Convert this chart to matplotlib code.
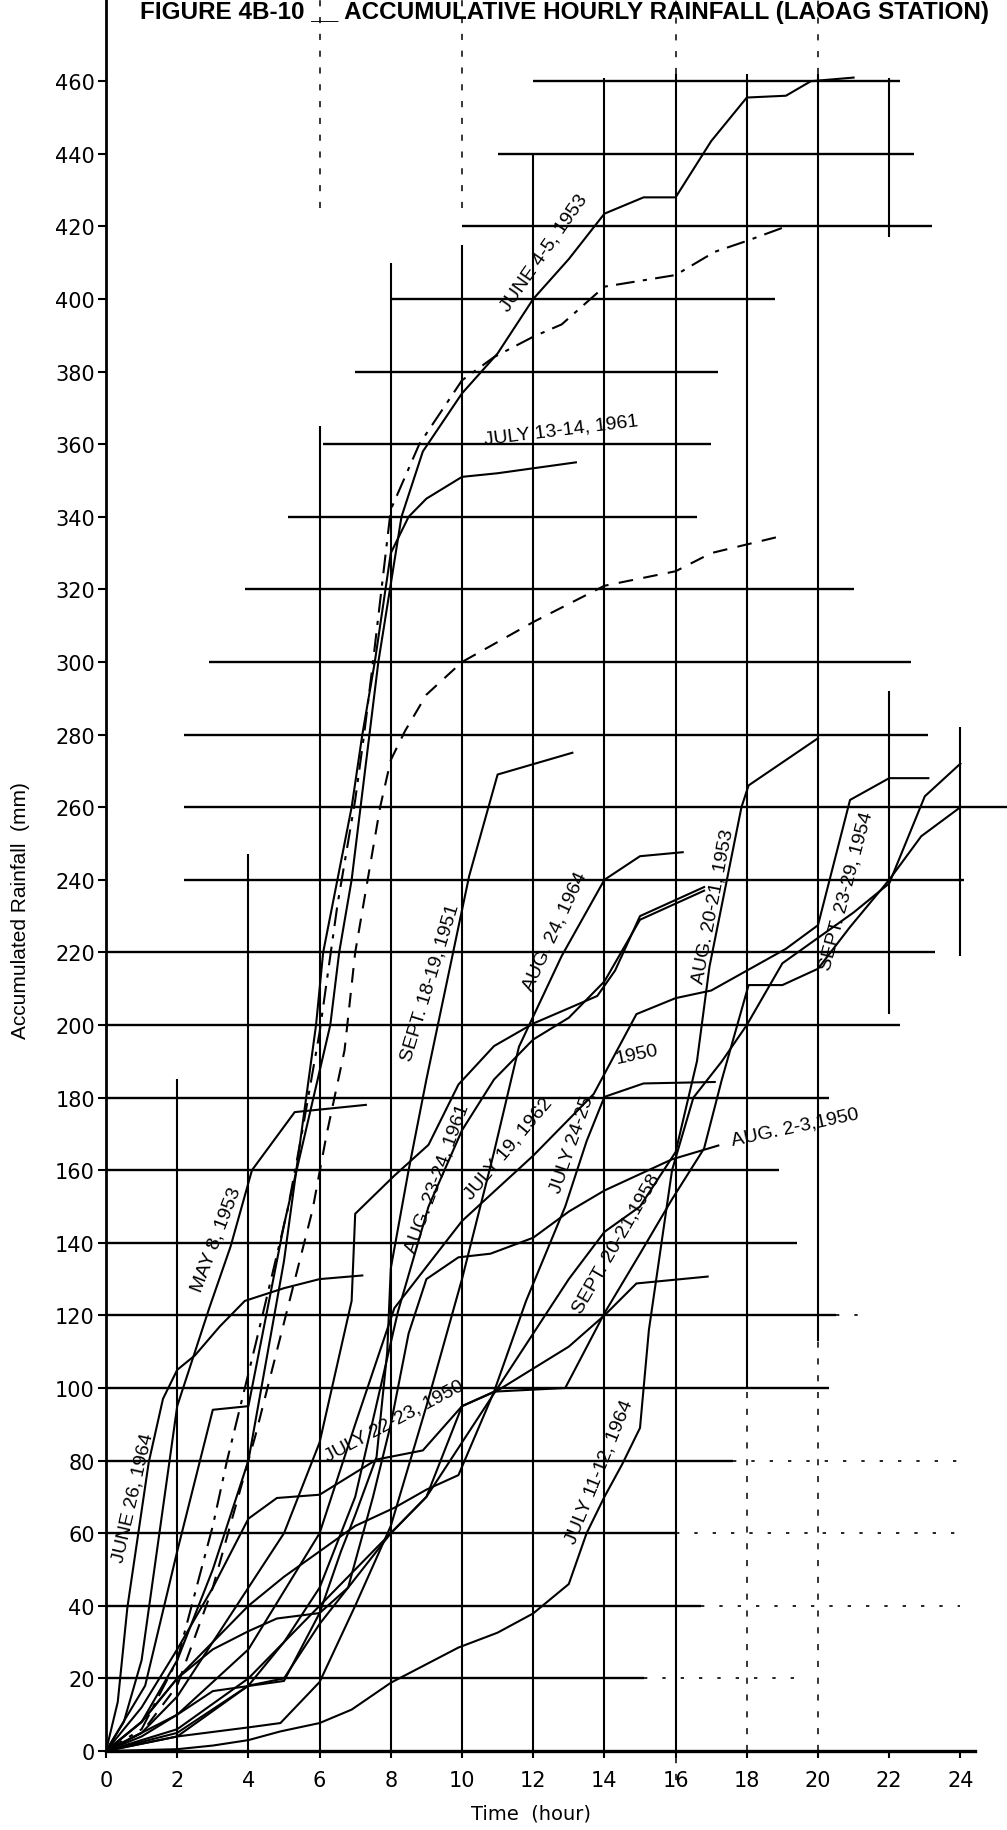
import matplotlib.pyplot as plt

plt.rcParams['font.family'] = ['Liberation Sans', 'DejaVu Sans']
TICKFONT = ['DejaVu Sans']

# storms: hours from start and accumulated rainfall (mm)
june26_1964_t = [0, 0.33, 0.6, 1.2, 1.6, 2, 2.5, 3.2, 3.9, 5, 6, 7.2]
june26_1964_mm = [0, 13.5, 39.5, 79.5, 97, 105, 109, 117, 124, 127.5, 130, 131]

may8_1953_t = [0, 0.5, 1, 1.5, 2, 2.9, 3.5, 4.1, 5.3, 7.3]
may8_1953_mm = [0, 8, 25, 60, 95, 122, 139, 160, 176, 178]

june4_5_1953_t = [0, 1.1, 2, 3, 4, 5, 6.3, 6.55, 6.9, 7.15, 7.4, 7.65, 8.3, 8.9, 10, 11,
                  12, 13, 14, 15.1, 16, 17, 18, 19.1, 19.8, 21]
june4_5_1953_mm = [0, 18, 55, 94, 95, 145, 200, 220, 240, 260, 280, 300, 340, 358, 374, 385,
                   400, 411, 423.5, 428, 428, 443.5, 455.5, 456, 460, 461]

upper_dashdot_t = [0, 1, 2, 3, 3.4, 4.2, 5.1, 5.5, 6, 6.5, 7, 7.25, 7.5, 8, 8.8, 10, 10.9,
                   12, 12.8, 14, 16, 17.1, 18, 19]
upper_dashdot_mm = [0, 6, 25, 62, 80, 112, 149, 170, 198, 233, 262, 280, 300, 342, 360, 377.6,
                    384, 389.6, 393, 403.4, 406.6, 413, 416, 419.6]

july13_14_1961_t = [0, 1, 2, 3, 4, 5, 5.9, 6.1, 6.5, 6.9, 7.2, 7.55, 8, 8.5, 9, 10, 11, 13.2]
july13_14_1961_mm = [0, 8, 25, 50, 80, 135, 200, 220, 240, 260, 280, 300, 330, 340, 345, 351,
                     352, 355]

lower_dashed_t = [0, 1, 2, 3, 4.2, 5, 5.8, 6.2, 6.7, 7, 7.35, 7.7, 8, 8.4, 9, 10, 12, 12.6,
                  14, 16, 17, 19.1]
lower_dashed_mm = [0, 5, 18, 45, 87, 118, 149, 170, 193, 220, 240, 260, 273, 281, 291, 300,
                   311, 314, 321, 325, 330, 335]

sept18_19_1951_t = [0, 1, 2, 3, 5, 6, 6.6, 7, 7.6, 7.9, 8.0, 8.5, 9.0, 9.3, 10.2, 11, 13.1]
sept18_19_1951_mm = [0, 4, 10, 16.5, 19.3, 38, 55, 65, 81, 110, 133, 160, 185, 199, 241, 269,
                     275]

aug24_1964_t = [0, 2, 4, 4.9, 6, 7, 8, 9, 10, 10.9, 11.6, 12.8, 14, 15, 16.2]
aug24_1964_mm = [0, 4, 6.5, 7.7, 19, 40, 62, 95, 130, 165, 194, 219, 240, 246.5, 247.6]

july19_1962_t = [0, 2, 4, 6, 7, 8.1, 10, 12, 13.7, 14.9, 16, 17, 19.1, 20, 20.9, 22, 23.1]
july19_1962_mm = [0, 10, 28, 60, 90, 122, 146, 164, 181, 203, 207.4, 209.5, 221, 227.5,
                  262, 268, 268]

aug23_24_1961_t = [0, 2, 4, 5, 6, 7, 8.2, 9.06, 10, 10.9, 12, 13, 14, 15, 16.8]
aug23_24_1961_mm = [0, 5, 18, 30, 45, 70, 121, 150, 171, 185, 196, 202, 212, 229, 237]

unlabeled_t = [0, 1, 2, 3, 4, 5, 6, 6.9, 7, 8.1, 9.06, 9.9, 10.9, 12, 13.8, 14.3, 15, 16.8]
unlabeled_mm = [0, 5, 15, 30, 45, 60, 85, 124, 148, 158.5, 167, 183.6, 194.2, 200.4, 208, 215,
                230, 238]

july24_25_1950_t = [0, 1, 2, 3, 4, 5, 6, 7, 8.1, 9, 9.9, 10.9, 11.8, 12.9, 13.5, 14, 15.1, 17.1]
july24_25_1950_mm = [0, 8, 20, 30, 40, 48, 55, 62, 67, 72, 76, 99, 124, 150, 168, 180.2, 183.9,
                     184.3]

aug2_3_1950_t = [0, 1, 2, 3, 4, 4.8, 6, 6.8, 7.5, 8, 8.5, 9, 9.9, 10.8, 12, 13, 14, 15.9, 17.2]
aug2_3_1950_mm = [0, 8, 20, 28, 33, 36.5, 38, 45, 70, 90, 115, 130, 136, 137, 141.4, 148.6,
                  154.4, 163, 166.8]

sept20_21_1958_t = [0, 2, 4, 5, 6, 8, 9, 10, 10.9, 12.9, 14, 15, 15.9, 16.8, 17.3, 18.05, 19,
                    20, 20.9, 22, 22.9, 24]
sept20_21_1958_mm = [0, 4, 18, 20, 35, 60, 70, 95, 99, 100, 120.6, 137, 152, 166, 185, 211, 211,
                     215.5, 227, 240, 252, 260]

july22_23_1950_t = [0, 1, 2, 3, 4, 4.8, 6, 7.6, 8.9, 10, 11, 13, 14, 14.9, 16.9]
july22_23_1950_mm = [0, 12, 28, 45, 64, 69.7, 70.6, 80.3, 82.8, 95, 99.3, 111.4, 120, 128.8,
                     130.7]

july11_12_1964_t = [0, 2, 3, 4, 4.9, 6, 6.9, 8, 9.9, 11, 12, 13, 13.5, 14, 14.5, 15, 15.25,
                    15.9, 16.5, 17.3, 18, 19, 20, 21, 22, 23, 24]
july11_12_1964_mm = [0, 0.5, 1.5, 3, 5.4, 7.7, 11.4, 18.8, 28.5, 32.6, 37.9, 46, 60, 70, 79,
                     89, 116, 160, 180, 190, 200, 217, 224, 231, 239, 263, 272]

aug20_21_1953_t = [0, 2, 4, 6, 8, 9, 10, 11, 12, 13, 14, 15, 16, 16.6, 16.95, 17.85, 18.05, 20]
aug20_21_1953_mm = [0, 6, 20, 40, 60, 70, 85, 100, 115, 130, 143, 150, 165, 190, 216, 260, 266,
                    279]

storms = [
    (june26_1964_t, june26_1964_mm, '-'),
    (may8_1953_t, may8_1953_mm, '-'),
    (june4_5_1953_t, june4_5_1953_mm, '-'),
    (upper_dashdot_t, upper_dashdot_mm, (0, (9, 4, 2, 4))),
    (july13_14_1961_t, july13_14_1961_mm, '-'),
    (lower_dashed_t, lower_dashed_mm, (0, (7, 5))),
    (sept18_19_1951_t, sept18_19_1951_mm, '-'),
    (aug24_1964_t, aug24_1964_mm, '-'),
    (july19_1962_t, july19_1962_mm, '-'),
    (aug23_24_1961_t, aug23_24_1961_mm, '-'),
    (unlabeled_t, unlabeled_mm, '-'),
    (july24_25_1950_t, july24_25_1950_mm, '-'),
    (aug2_3_1950_t, aug2_3_1950_mm, '-'),
    (sept20_21_1958_t, sept20_21_1958_mm, '-'),
    (july22_23_1950_t, july22_23_1950_mm, '-'),
    (july11_12_1964_t, july11_12_1964_mm, '-'),
    (aug20_21_1953_t, aug20_21_1953_mm, '-'),
]

# curve labels: text, hour, mm, angle
curve_labels = [
    ('JUNE 26, 1964', 0.75, 70, 77),
    ('MAY 8, 1953', 3.1, 141, 69),
    ('JUNE 4-5, 1953', 12.3, 413, 55),
    ('JULY 13-14, 1961', 12.8, 364, 7),
    ('SEPT. 18-19, 1951', 9.1, 212, 73),
    ('AUG. 24, 1964', 12.6, 226, 65),
    ('AUG. 20-21, 1953', 17.05, 233, 79),
    ('SEPT. 23-29, 1954', 20.8, 237, 75),
    ('AUG. 23-24, 1961', 9.3, 158, 70),
    ('JULY 19, 1962', 11.3, 166, 50),
    ('JULY 24-25,', 13.1, 168, 71),
    ('1950', 14.9, 192, 12),
    ('AUG. 2-3,1950', 19.35, 172, 12),
    ('SEPT. 20-21,1958', 14.35, 140, 60),
    ('JULY 11-12, 1964', 13.85, 77, 68),
    ('JULY 22-23, 1950', 8.1, 91, 28),
]

# graph-paper rulings of the scan (mm level, from hour, to hour)
hgrid_mm = list(range(20, 461, 20))
hgrid_from = [0, 0, 0, 0, 0, 0, 0, 0, 0, 0, 0, 2.2, 2.2, 2.2, 2.9, 3.9, 5.1, 6.1, 7.0, 8.0,
              10.0, 11.0, 12.0]
hgrid_to = [15.1, 16.7, 16.0, 17.6, 20.3, 20.5, 19.4, 18.9, 20.3, 22.3, 23.3, 24.1, 25.4, 23.1,
            22.6, 21.0, 16.6, 17.0, 17.2, 18.8, 23.2, 22.7, 22.3]
# vertical rulings (hour, from mm, to mm)
vgrid_h = [2, 4, 6, 8, 10, 12, 14, 16, 18, 20, 22, 22, 24]
vgrid_from = [0, 0, 0, 0, 0, 0, 0, 0, 100, 113, 417, 203, 219]
vgrid_to = [185, 247, 365, 410, 415, 440, 461, 462, 462, 462, 461, 292, 282]
# broken / faint rulings
vdash_h = [18, 20, 16, 20, 6, 10, 16]
vdash_from = [0, 0, -8, 462, 425, 425, 462]
vdash_to = [100, 113, 0, 483, 483, 483, 483]
hdot_mm = [20, 40, 60, 80, 120]
hdot_from = [15.1, 16.7, 16.0, 17.6, 20.5]
hdot_to = [19.5, 24.0, 24.0, 24.0, 21.3]

px_per_hour = 35.6
px_per_mm = 3.63

fig = plt.figure(figsize=(10.07, 18.31), dpi=100)
ax = fig.add_axes([106 / 1007, 79 / 1831, 901 / 1007, 1752 / 1831])
ax.set_xlim(0, 901 / px_per_hour)
ax.set_ylim(0, 1752 / px_per_mm)

for y, a, b in zip(hgrid_mm, hgrid_from, hgrid_to):
    ax.plot([a, b], [y, y], color='black', lw=1.7, solid_capstyle='butt', zorder=1)
for x, a, b in zip(vgrid_h, vgrid_from, vgrid_to):
    ax.plot([x, x], [a, b], color='black', lw=1.5, solid_capstyle='butt', zorder=1)
for x, a, b in zip(vdash_h, vdash_from, vdash_to):
    ax.plot([x, x], [a, b], color='black', lw=1.1, ls=(0, (4, 7)), zorder=1, clip_on=False)
for y, a, b in zip(hdot_mm, hdot_from, hdot_to):
    ax.plot([a, b], [y, y], color='black', lw=1.2, ls=(0, (2, 9)), zorder=1)

for t, mm, style in storms:
    ax.plot(t, mm, color='black', lw=1.5, ls=style, zorder=3)

for text, h, mm, ang in curve_labels:
    ax.text(h, mm, text, rotation=ang, rotation_mode='anchor', ha='center', va='center',
            fontsize=14, color='black', zorder=4)

ax.spines['top'].set_visible(False)
ax.spines['right'].set_visible(False)
ax.spines['left'].set_linewidth(2.0)
ax.spines['bottom'].set_linewidth(2.4)
ax.spines['bottom'].set_bounds(0, 24.4)

ax.set_yticks(range(0, 461, 20))
ax.set_xticks(range(0, 25, 2))
ax.tick_params(axis='y', direction='out', length=6, width=1.5, pad=2, labelsize=15)
ax.tick_params(axis='x', direction='out', length=5, width=1.5, pad=9, labelsize=15)
for lbl in ax.get_xticklabels() + ax.get_yticklabels():
    lbl.set_fontfamily(TICKFONT)

fig.text(21 / 1007, 1 - 911 / 1831, 'Accumulated Rainfall  (mm)', rotation=90,
         ha='center', va='center', fontsize=15)
fig.text(531 / 1007, 1 - 1814 / 1831, 'Time  (hour)', ha='center', va='center', fontsize=14,
         family=TICKFONT)
fig.text(140 / 1007, 1 - 19 / 1831,
         'FIGURE 4B-10 __ ACCUMULATIVE HOURLY RAINFALL (LAOAG STATION)',
         ha='left', va='baseline', fontsize=17.5, fontweight='bold')

fig.savefig('out.png', dpi=100, facecolor='white')
